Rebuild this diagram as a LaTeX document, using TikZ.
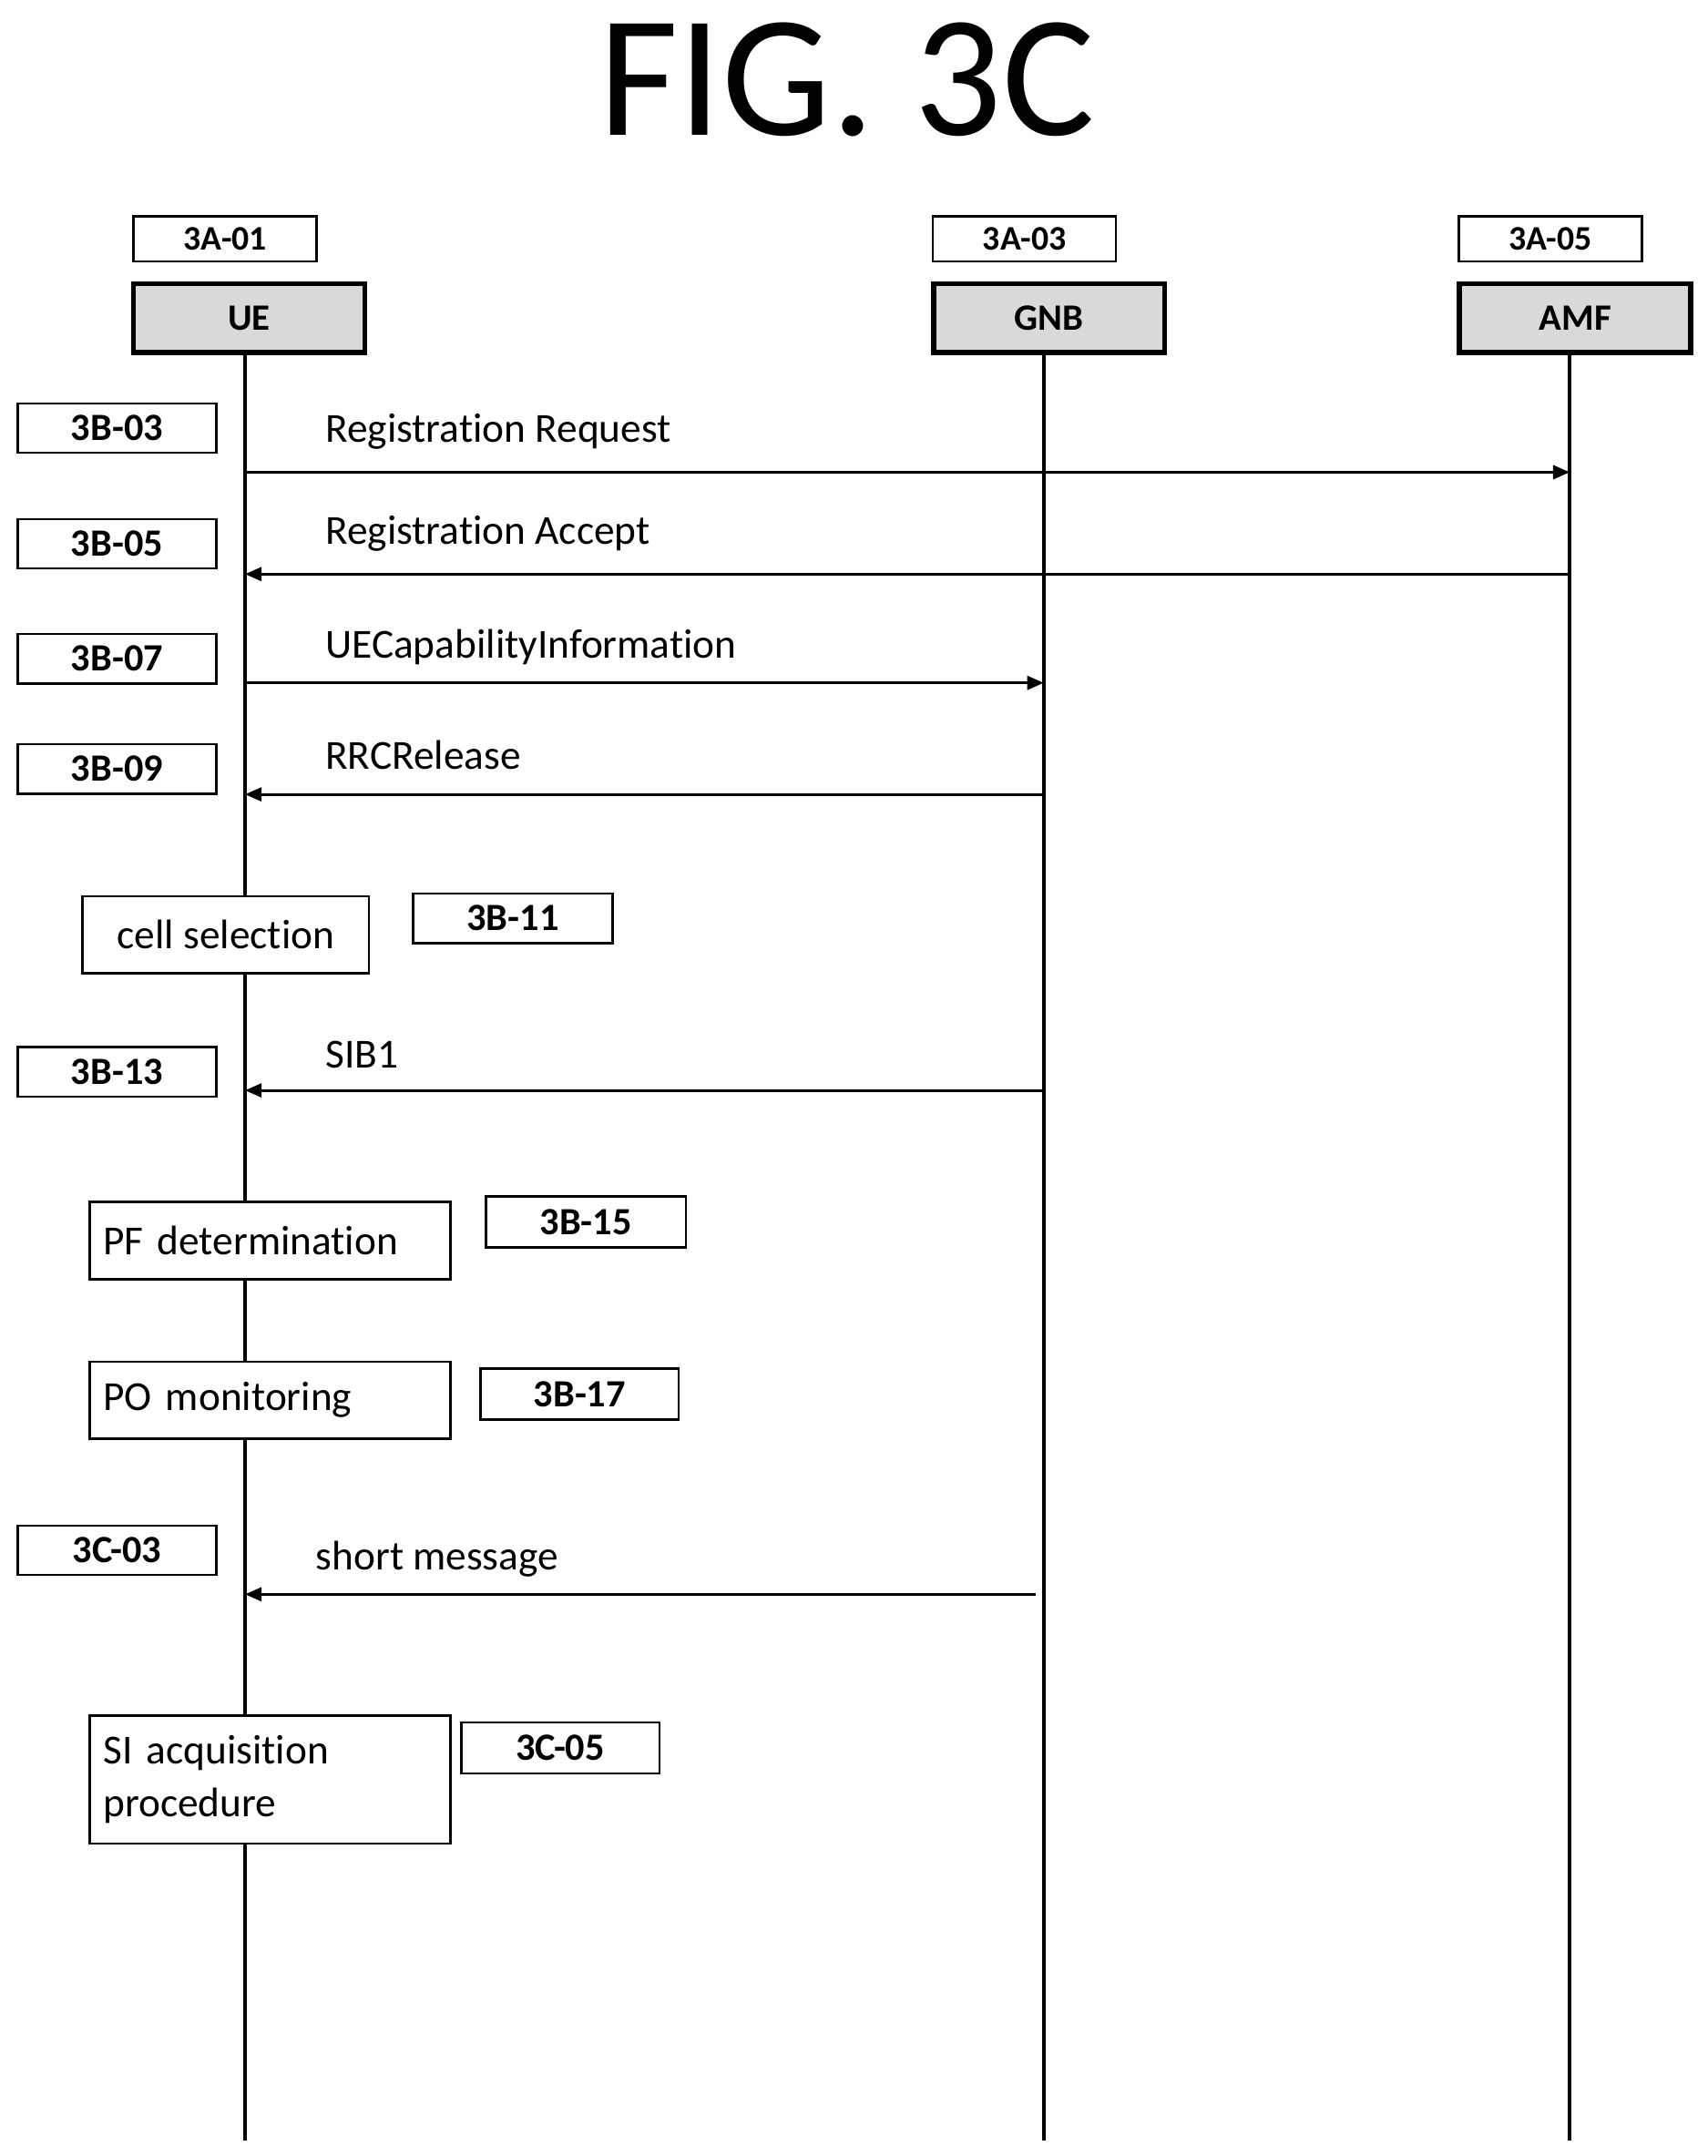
\documentclass[tikz,border=0pt]{standalone}
\usepackage{fontspec}
\setmainfont[Ligatures={NoCommon}]{Carlito}
\usetikzlibrary{arrows.meta}
\begin{document}
\begin{tikzpicture}[x=0.5pt,y=-0.5pt,
  lbl/.style={draw,line width=0.8pt,font=\fontsize{14}{16}\selectfont\bfseries,inner sep=0pt},
  hdr/.style={draw,line width=1.8pt,fill=gray!30,font=\fontsize{13.5}{15}\selectfont\bfseries,inner sep=0pt},
  proc/.style={draw,line width=0.9pt,font=\fontsize{15}{18}\selectfont,inner sep=0pt},
  msg/.style={font=\fontsize{15}{18}\selectfont,anchor=base west,inner sep=0pt},
  life/.style={line width=1.2pt},
  arr/.style={line width=1pt,-{Triangle[length=6pt,width=5pt]}}]
\useasboundingbox (0,0) rectangle (1240,1566);
\node[font=\fontsize{63}{72}\selectfont] (title) at (615,58) {FIG. 3C};
% headers
\node[lbl,minimum width=66.5pt,minimum height=16.5pt,font=\fontsize{12.5}{14}\selectfont\bfseries] (l1) at (163.5,173.5) {3A-01};
\node[lbl,minimum width=66.5pt,minimum height=16.5pt,font=\fontsize{12.5}{14}\selectfont\bfseries] (l3) at (744,173.5) {3A-03};
\node[lbl,minimum width=66.5pt,minimum height=16.5pt,font=\fontsize{12.5}{14}\selectfont\bfseries] (l5) at (1126,173.5) {3A-05};
\node[hdr,minimum width=84pt,minimum height=25pt] (ue) at (181,231) {UE};
\node[hdr,minimum width=84pt,minimum height=25pt] (gnb) at (762,231) {GNB};
\node[hdr,minimum width=84pt,minimum height=25pt] (amf) at (1144,231) {AMF};
\coordinate (ueb) at (178,1555); \coordinate (gnbb) at (758,1555); \coordinate (amfb) at (1140,1555);
\draw[life] (178,257) -- (ueb);
\draw[life] (758,257) -- (gnbb);
\draw[life] (1140,257) -- (amfb);
% step labels
\foreach \n/\t/\y in {a/3B-03/311,b/3B-05/395,c/3B-07/478.5,d/3B-09/558.5,e/3B-13/778.5,f/3C-03/1126}
  \node[lbl,minimum width=72pt,minimum height=18pt] (s\n) at (85,\y) {\t};
% messages
\coordinate (m1a) at (178,343); \coordinate (m1b) at (1140,343);
\draw[arr] (m1a) -- (m1b);
\node[msg] (t1) at (236,321) {Registration Request};
\coordinate (m2a) at (1140,417); \coordinate (m2b) at (178,417);
\draw[arr] (m2a) -- (m2b);
\node[msg] (t2) at (236,395) {Registration Accept};
\coordinate (m3a) at (178,496); \coordinate (m3b) at (758,496);
\draw[arr] (m3a) -- (m3b);
\node[msg] (t3) at (236,478) {UECapabilityInformation};
\coordinate (m4a) at (758,577); \coordinate (m4b) at (178,577);
\draw[arr] (m4a) -- (m4b);
\node[msg] (t4) at (236,559) {RRCRelease};
\coordinate (m5a) at (758,792); \coordinate (m5b) at (178,792);
\draw[arr] (m5a) -- (m5b);
\node[msg] (t5) at (236,776) {SIB1};
\coordinate (m6a) at (752,1158); \coordinate (m6b) at (178,1158);
\draw[arr] (m6a) -- (m6b);
\node[msg] (t6) at (229,1140) {short message};
% processes
\node[proc,fill=white,minimum width=104pt,minimum height=28pt] (p1) at (164,679) {cell selection};
\node[lbl,minimum width=72.5pt,minimum height=18pt] (k1) at (372.5,667) {3B-11};
\node[proc,fill=white,minimum width=131pt,minimum height=28pt,text width=121pt,align=left] (p2) at (196,901) {PF determination};
\node[lbl,minimum width=72.5pt,minimum height=18.5pt] (k2) at (425.5,887.5) {3B-15};
\node[proc,fill=white,minimum width=131pt,minimum height=28pt,text width=121pt,align=left] (p3) at (196,1017) {PO monitoring};
\node[lbl,minimum width=72pt,minimum height=18.5pt] (k3) at (421,1012.5) {3B-17};
\node[proc,fill=white,minimum width=131pt,minimum height=46.5pt,text width=121pt,align=left] (p4) at (196,1292.5) {SI acquisition\\[1pt]procedure};
\node[lbl,minimum width=72pt,minimum height=18.5pt] (k4) at (407,1269.5) {3C-05};
\end{tikzpicture}
\end{document}
